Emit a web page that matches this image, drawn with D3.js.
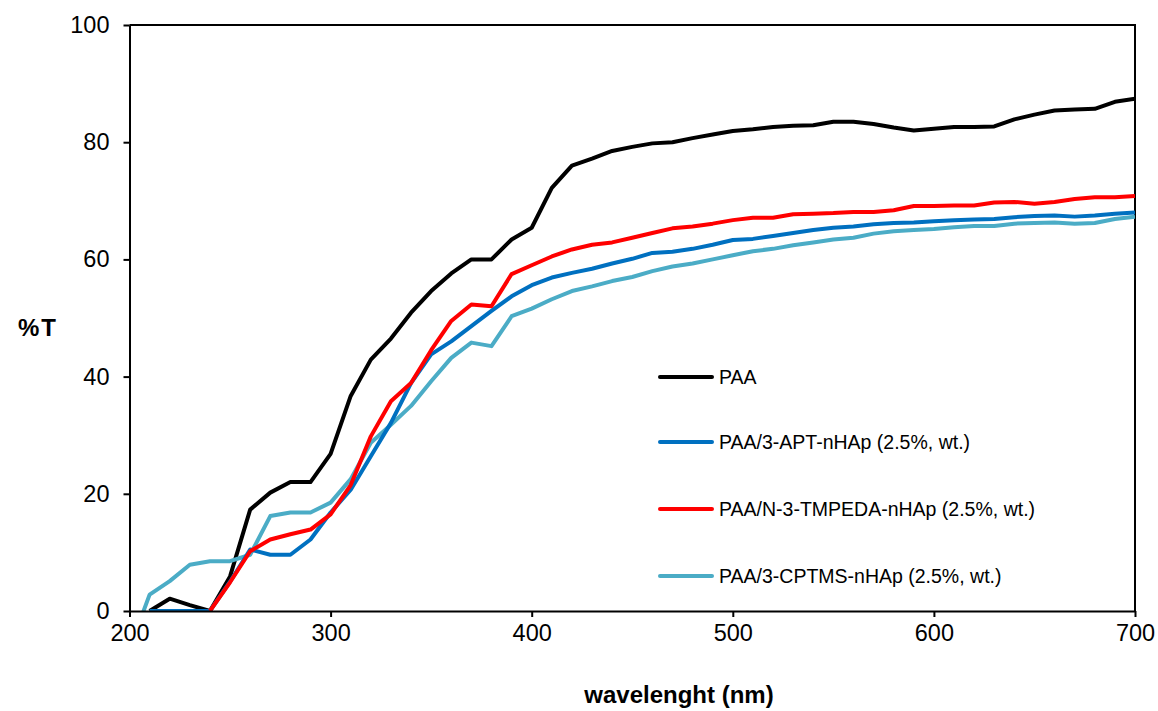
<!DOCTYPE html>
<html>
<head>
<meta charset="utf-8">
<script src="https://cdn.jsdelivr.net/npm/d3@7"></script>
<style>
  html, body { margin: 0; padding: 0; background: #fff; }
  svg { display: block; font-family: "Liberation Sans", Arial, sans-serif; }
</style>
</head>
<body>
<svg id="chart" width="1158" height="711"></svg>
<script>
// wavelength grid (nm)
const wavelengths = [200,210,220,230,240,250,260,270,280,290,300,310,320,330,340,350,360,370,380,390,400,410,420,430,440,450,460,470,480,490,500,510,520,530,540,550,560,570,580,590,600,610,620,630,640,650,660,670,680,690,700];

const seriesNames = ["PAA", "PAA/3-APT-nHAp (2.5%, wt.)", "PAA/N-3-TMPEDA-nHAp (2.5%, wt.)", "PAA/3-CPTMS-nHAp (2.5%, wt.)"];

const paa = [null,0,2.1,1,0,5.9,17.3,20.2,22,22,26.8,36.7,42.9,46.5,50.9,54.6,57.6,60,60,63.4,65.4,72.2,76,77.2,78.5,79.2,79.8,80,80.7,81.3,81.9,82.2,82.6,82.8,82.9,83.5,83.5,83.1,82.5,82,82.3,82.6,82.6,82.7,83.9,84.7,85.4,85.6,85.7,86.9,87.4];
const apt = [null,0,0,0,0,5,10.5,9.6,9.6,12.2,16.8,20.7,26.4,32.1,38.9,43.8,46,48.6,51.2,53.7,55.6,56.9,57.7,58.4,59.3,60.1,61.1,61.3,61.8,62.5,63.3,63.5,64,64.5,65,65.4,65.6,66,66.2,66.3,66.5,66.7,66.8,66.9,67.2,67.4,67.5,67.3,67.5,67.8,68];
const tmpeda = [null,null,null,null,0,4.9,10.2,12.2,13.1,13.9,16.5,21.5,29.8,35.8,38.9,44.5,49.5,52.3,52,57.5,59,60.5,61.7,62.5,62.9,63.7,64.5,65.3,65.6,66.1,66.7,67.1,67.1,67.7,67.8,67.9,68.1,68.1,68.4,69.1,69.1,69.2,69.2,69.7,69.8,69.5,69.8,70.3,70.6,70.6,70.8];
const cptms = [-6.5,2.8,5.1,7.9,8.5,8.5,9.6,16.2,16.8,16.8,18.5,22.5,28.7,31.8,35,39.2,43.2,45.8,45.2,50.3,51.6,53.2,54.6,55.4,56.3,57,58,58.8,59.3,60,60.7,61.4,61.8,62.4,62.9,63.4,63.7,64.4,64.8,65,65.2,65.5,65.7,65.7,66.1,66.2,66.3,66.1,66.2,66.9,67.3];

const seriesValues = [paa, apt, tmpeda, cptms];
const seriesColors = ["#000000", "#0070C0", "#FF0000", "#4BACC6"];

const xTicks = [200,300,400,500,600,700];
const yTicks = [0,20,40,60,80,100];
const xTitle = "wavelenght (nm)";
const yTitle = "%T";

const svg = d3.select("#chart");
const mLeft = 129.5, mRight = 1135, mTop = 25, mBottom = 611;

const x = d3.scaleLinear().domain([200, 700]).range([mLeft, mRight]);
const y = d3.scaleLinear().domain([0, 100]).range([mBottom, mTop]);

svg.append("defs").append("clipPath").attr("id", "plotclip")
  .append("rect").attr("x", mLeft).attr("y", mTop - 2).attr("width", mRight - mLeft).attr("height", mBottom - mTop + 2);

// plot frame (top and right)
svg.append("path")
  .attr("d", `M${mLeft},${mTop}H${mRight}V${mBottom}`)
  .attr("fill", "none").attr("stroke", "#000").attr("stroke-width", 2);

// series
const line = d3.line()
  .defined(d => d[1] !== null)
  .x(d => x(d[0])).y(d => y(d[1]));

const g = svg.append("g").attr("clip-path", "url(#plotclip)");
const drawOrder = [0, 3, 1, 2];
drawOrder.forEach(i => {
  const data = wavelengths.map((w, k) => [w, seriesValues[i][k]]);
  g.append("path")
    .datum(data)
    .attr("d", line)
    .attr("fill", "none")
    .attr("stroke", seriesColors[i])
    .attr("stroke-width", 4)
    .attr("stroke-linejoin", "round");
});

// axes
const xAxis = d3.axisBottom(x).tickValues(xTicks).tickSize(6).tickSizeOuter(0).tickPadding(7);
const yAxis = d3.axisLeft(y).tickValues(yTicks).tickSize(6).tickSizeOuter(0).tickPadding(14);

const gx = svg.append("g").attr("transform", `translate(0,${mBottom})`).call(xAxis);
const gy = svg.append("g").attr("transform", `translate(${mLeft},0)`).call(yAxis);
[gx, gy].forEach(ax => {
  ax.select(".domain").attr("stroke", "#000").attr("stroke-width", 2);
  ax.selectAll(".tick line").attr("stroke", "#000").attr("stroke-width", 2);
  ax.selectAll(".tick text").attr("fill", "#000").style("font-size", "23.5px")
    .style("font-family", "'Liberation Sans', Arial, sans-serif");
});

// axis titles
svg.append("text")
  .attr("x", 679).attr("y", 703)
  .attr("text-anchor", "middle")
  .style("font-size", "24px").style("font-weight", "bold")
  .text(xTitle);
svg.append("text")
  .attr("x", 38).attr("y", 336)
  .attr("text-anchor", "middle")
  .style("font-size", "24px").style("font-weight", "bold")
  .style("letter-spacing", "2px")
  .text(yTitle);

// legend
const legendY = [377, 442, 509, 576];
const lg = svg.append("g");
seriesNames.forEach((name, i) => {
  lg.append("line")
    .attr("x1", 660).attr("x2", 712)
    .attr("y1", legendY[i]).attr("y2", legendY[i])
    .attr("stroke", seriesColors[i]).attr("stroke-width", 4)
    .attr("stroke-linecap", "round");
  lg.append("text")
    .attr("x", 719).attr("y", legendY[i])
    .attr("dy", "0.36em")
    .style("font-size", "19.5px")
    .text(name);
});
</script>
</body>
</html>
